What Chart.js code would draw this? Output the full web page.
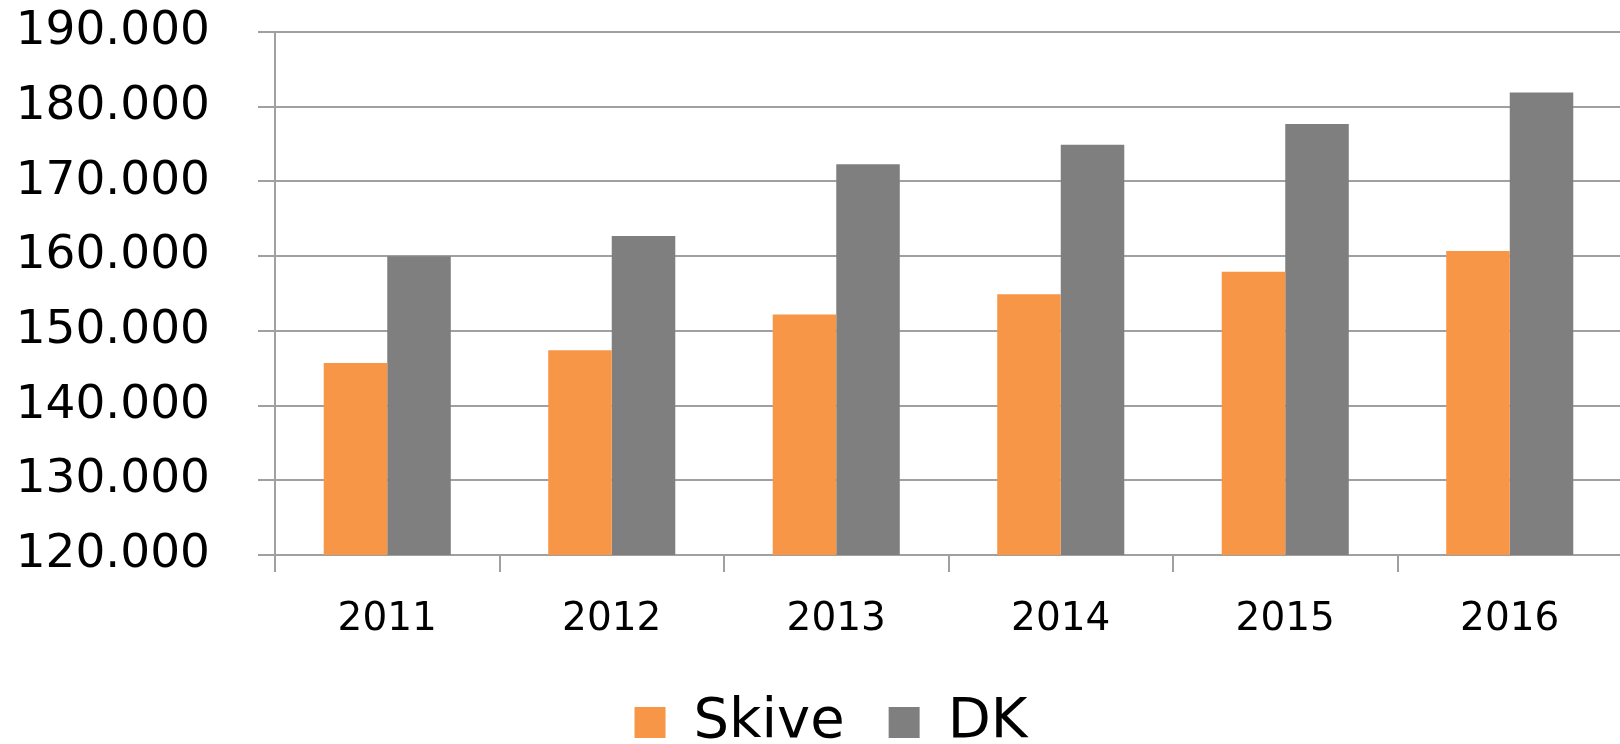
<!DOCTYPE html>
<html>
<head>
<meta charset="utf-8">
<script src="https://cdn.jsdelivr.net/npm/chart.js@4/dist/chart.umd.min.js"></script>
<style>
  html, body { margin: 0; padding: 0; background: #fff; overflow: hidden; }
  #wrap { width: 1622px; height: 744px; }
</style>
</head>
<body>
<div id="wrap"><canvas id="c" width="1622" height="744"></canvas></div>
<script>
const categories = ['2011', '2012', '2013', '2014', '2015', '2016'];
const skiveValues = [145700, 147400, 152200, 154900, 157900, 160700];
const dkValues = [160000, 162700, 172300, 174900, 177700, 181900];
const yTicks = [120000, 130000, 140000, 150000, 160000, 170000, 180000, 190000];

const gridColor = '#A0A0A0';
const fontFamily = '"DejaVu Sans", Verdana, sans-serif';

// shifts the legend block to the right, like the reference's legend placement
const legendShift = {
  id: 'legendShift',
  afterLayout(chart) {
    if (chart.legend) { chart.legend.left += 40; }
  }
};

new Chart(document.getElementById('c'), {
  type: 'bar',
  data: {
    labels: categories,
    datasets: [
      { label: 'Skive', data: skiveValues, backgroundColor: '#F79646', borderWidth: 0 },
      { label: 'DK', data: dkValues, backgroundColor: '#7F7F7F', borderWidth: 0 }
    ]
  },
  plugins: [legendShift],
  options: {
    responsive: false,
    devicePixelRatio: 1,
    animation: false,
    layout: { padding: { top: 32, left: 0, right: 0, bottom: -16.5 } },
    datasets: { bar: { categoryPercentage: 0.566, barPercentage: 1.0 } },
    plugins: {
      tooltip: { enabled: false },
      legend: {
        position: 'bottom',
        labels: {
          font: { family: fontFamily, size: 56 },
          color: '#000',
          boxWidth: 31,
          boxHeight: 31,
          padding: 44
        }
      }
    },
    scales: {
      x: {
        offset: true,
        afterFit: (scale) => { scale.height = 95.5; },
        grid: { display: true, drawOnChartArea: false, drawTicks: true, tickLength: 17, color: gridColor, lineWidth: 2, offset: true },
        border: { display: true, color: gridColor, width: 2 },
        ticks: { font: { family: fontFamily, size: 39 }, color: '#000', padding: 24, maxRotation: 0 }
      },
      y: {
        min: 120000,
        max: 190000,
        afterBuildTicks: (scale) => { scale.ticks = yTicks.map(v => ({ value: v })); },
        afterFit: (scale) => { scale.width = 275; scale.paddingTop = 0; scale.paddingBottom = 0; },
        grid: { color: gridColor, lineWidth: 2, tickLength: 17 },
        border: { display: true, color: gridColor, width: 2 },
        ticks: {
          font: { family: fontFamily, size: 47 },
          color: '#000',
          padding: 48,
          callback: (v) => (v / 1000).toFixed(3)
        }
      }
    }
  }
});
</script>
</body>
</html>
